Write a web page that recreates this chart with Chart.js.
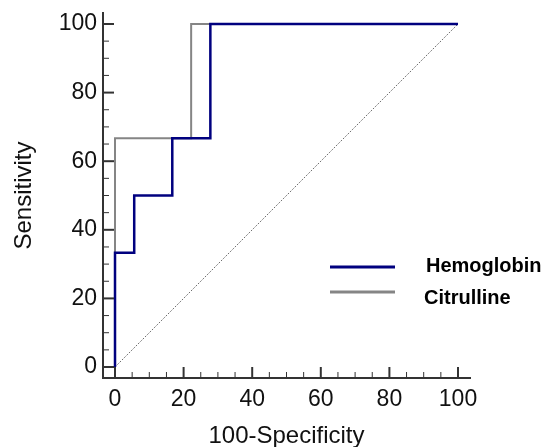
<!DOCTYPE html>
<html>
<head>
<meta charset="utf-8">
<script src="https://cdn.jsdelivr.net/npm/chart.js@4"></script>
<style>
  html, body { margin: 0; padding: 0; background: #fff; }
  canvas { display: block; }
</style>
</head>
<body>
<canvas id="roc-chart" width="546" height="447"></canvas>
<script>
// ROC points (100-Specificity, Sensitivity)
const hemoglobinX = [0, 0, 5.6, 5.6, 16.7, 16.7, 27.8, 27.8, 100];
const hemoglobinY = [0, 33.3, 33.3, 50, 50, 66.7, 66.7, 100, 100];
const citrullineX = [0, 0, 22.2, 22.2, 100];
const citrullineY = [0, 66.7, 66.7, 100, 100];
const referenceX = [0, 100];
const referenceY = [0, 100];
const tickValues = [0, 20, 40, 60, 80, 100];
const minorStep = 5;

const fontFamily = '"Liberation Sans", Arial, sans-serif';

function toPoints(xs, ys) {
    return xs.map((x, i) => ({ x: x, y: ys[i] }));
}

// inward tick marks drawn from the scales
const innerTicks = {
    id: 'innerTicks',
    afterDatasetsDraw(chart) {
        const ctx = chart.ctx;
        const xs = chart.scales.x;
        const ys = chart.scales.y;
        const area = chart.chartArea;
        ctx.save();
        ctx.strokeStyle = '#333';
        for (let v = 0; v <= 100; v += minorStep) {
            const major = tickValues.includes(v);
            ctx.lineWidth = major ? 2 : 1;
            const len = major ? 11 : 6;
            const px = xs.getPixelForValue(v);
            ctx.beginPath();
            ctx.moveTo(px, area.bottom);
            ctx.lineTo(px, area.bottom - len);
            ctx.stroke();
            const py = ys.getPixelForValue(v);
            ctx.beginPath();
            ctx.moveTo(area.left, py);
            ctx.lineTo(area.left + len, py);
            ctx.stroke();
        }
        ctx.restore();
    }
};

// legend placed inside the plot
const insideLegend = {
    id: 'insideLegend',
    afterDraw(chart) {
        const ctx = chart.ctx;
        const items = chart.data.datasets.filter(d => d.label);
        const lineY = [267, 292];
        const textY = [272, 304];
        ctx.save();
        ctx.font = 'bold 20px ' + fontFamily;
        ctx.fillStyle = '#000';
        ctx.textBaseline = 'alphabetic';
        items.forEach((d, i) => {
            ctx.strokeStyle = d.borderColor;
            ctx.lineWidth = 3;
            ctx.beginPath();
            ctx.moveTo(330, lineY[i]);
            ctx.lineTo(395, lineY[i]);
            ctx.stroke();
            ctx.fillText(d.label, 426 - i * 2, textY[i]);
        });
        ctx.restore();
    }
};

new Chart(document.getElementById('roc-chart').getContext('2d'), {
    type: 'line',
    data: {
        datasets: [
            {
                label: 'Hemoglobin',
                data: toPoints(hemoglobinX, hemoglobinY),
                borderColor: '#00007f',
                borderWidth: 2.5,
                pointRadius: 0,
                tension: 0
            },
            {
                label: 'Citrulline',
                data: toPoints(citrullineX, citrullineY),
                borderColor: '#858585',
                borderWidth: 2,
                pointRadius: 0,
                tension: 0
            },
            {
                data: toPoints(referenceX, referenceY),
                borderColor: '#333',
                borderWidth: 1,
                borderDash: [1, 1.5],
                pointRadius: 0
            }
        ]
    },
    options: {
        responsive: false,
        animation: false,
        layout: { padding: { left: 0, top: 13, right: 76, bottom: 0 } },
        plugins: {
            legend: { display: false },
            tooltip: { enabled: false }
        },
        scales: {
            x: {
                type: 'linear',
                min: -3.5,
                max: 103.5,
                afterFit: s => { s.height = 69; s.paddingLeft = 0; s.paddingRight = 0; },
                afterBuildTicks: s => { s.ticks = tickValues.map(v => ({ value: v })); },
                grid: { drawOnChartArea: false, drawTicks: false },
                border: { color: '#333', width: 2 },
                ticks: {
                    color: '#111',
                    padding: 8,
                    maxRotation: 0,
                    font: { family: fontFamily, size: 23 }
                },
                title: {
                    display: true,
                    text: '100-Specificity',
                    color: '#111',
                    padding: { top: 0, bottom: -1 },
                    font: { family: fontFamily, size: 24, lineHeight: 1 }
                }
            },
            y: {
                type: 'linear',
                min: -3.2,
                max: 103.2,
                afterFit: s => { s.width = 103; s.paddingTop = 0; s.paddingBottom = 0; },
                afterBuildTicks: s => { s.ticks = tickValues.map(v => ({ value: v })); },
                grid: { drawOnChartArea: false, drawTicks: false },
                border: { color: '#333', width: 2 },
                ticks: {
                    color: '#111',
                    padding: 6,
                    font: { family: fontFamily, size: 23 }
                },
                title: {
                    display: true,
                    text: 'Sensitivity',
                    color: '#111',
                    padding: { top: 12, bottom: 0 },
                    font: { family: fontFamily, size: 24, lineHeight: 1 }
                }
            }
        }
    },
    plugins: [innerTicks, insideLegend]
});
</script>
</body>
</html>
